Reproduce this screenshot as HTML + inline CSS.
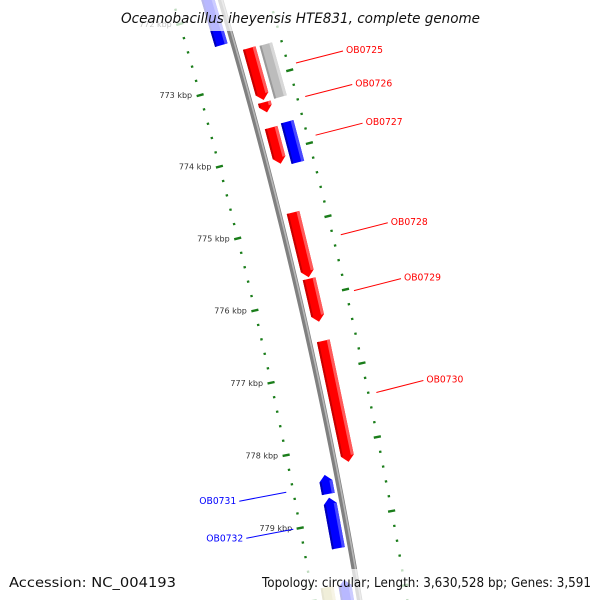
<!DOCTYPE html>
<html><head><meta charset="utf-8"><style>
html,body{margin:0;padding:0;background:#fff;width:600px;height:600px;overflow:hidden;}
svg{display:block;font-family:"DejaVu Sans","Liberation Sans",sans-serif;}
</style></head><body>
<svg id="map" width="600" height="600" viewBox="0 0 600 600" xmlns="http://www.w3.org/2000/svg">
<rect x="0" y="0" width="600" height="600" fill="#fff"/>
<g id="ticks"></g>
<g id="backbone"></g>
<g id="genes"></g>
<g id="labels"></g>
<rect x="0" y="0" width="600" height="31" fill="#fff" fill-opacity="0.72"/>
<rect x="0" y="569" width="600" height="31" fill="#fff" fill-opacity="0.72"/>
<text x="121" y="23" textLength="359" lengthAdjust="spacingAndGlyphs" font-size="14" font-style="italic" fill="#111">Oceanobacillus iheyensis HTE831, complete genome</text>
<text x="9" y="587" textLength="167" lengthAdjust="spacingAndGlyphs" font-size="13" fill="#111">Accession: NC_004193</text>
<text x="262" y="587" textLength="329" lengthAdjust="spacingAndGlyphs" font-size="13" fill="#111">Topology: circular; Length: 3,630,528 bp; Genes: 3,591</text>
</svg>
<script>
// ---- data ----
const geneNames   = ["top-rev","OB0725","feat-0725","OB0726","OB0727","feat-0727","OB0728","OB0729","OB0730","OB0731","OB0732","bottom-rev","bottom-feat"];
const geneStarts  = [771.3, 772.57, 772.58, 773.32, 773.67, 773.65, 774.84, 775.75, 776.60, 778.36, 778.67, 779.79, 779.85];
const geneEnds    = [772.43, 773.29, 773.31, 773.46, 774.17, 774.21, 775.73, 776.34, 778.25, 778.62, 779.36, 780.6, 780.6];
const geneStrands = [-1, 1, 0, 1, 1, 0, 1, 1, 1, -1, -1, -1, 0];
const geneLanes   = ["r1","f1","f2","f1","f1","f2","f1","f1","f1","r1","r1","r1","r2"];
const geneColors  = ["blue","red","gray","red","red","blue","red","red","red","blue","blue","blue","khaki"];
const labelNames  = ["OB0725","OB0726","OB0727","OB0728","OB0729","OB0730","OB0731","OB0732"];
const labelKbp    = [772.93, 773.39, 773.92, 775.28, 776.04, 777.42, 778.49, 779.0];
const labelSides  = [1, 1, 1, 1, 1, 1, -1, -1];
const tickStart = 771.0, tickEnd = 780.6, tickStep = 0.2;
const majorTickLabels = ["772 kbp","773 kbp","774 kbp","775 kbp","776 kbp","777 kbp","778 kbp","779 kbp"];
const majorTickValues = [772,773,774,775,776,777,778,779];

// ---- geometry ----
const CX=-4679, CY=1451;
const laneR={f1:5124,f2:5141,r1:5098,r2:5080};
const LW=13;
function ang(k){return (-15.53+(k-773)*0.838)*Math.PI/180;}
function pt(k,r){const a=ang(k);return [CX+r*Math.cos(a),CY+r*Math.sin(a)];}
const NS="http://www.w3.org/2000/svg";
function mk(tag,attrs,parent){const e=document.createElementNS(NS,tag);for(const k in attrs)e.setAttribute(k,attrs[k]);parent.appendChild(e);return e;}
const palette={red:["#ff0000","#c80000","#ff5a5a"],blue:["#0000ff","#0000b8","#4a4aff"],gray:["#bcbcbc","#9a9a9a","#d8d8d8"],khaki:["#c8c078","#a8a060","#e0d8a0"]};

// ticks
const tg=document.getElementById('ticks');
const nT=Math.round((tickEnd-tickStart)/tickStep);
for(let i=0;i<=nT;i++){
  const k=tickStart+i*tickStep;
  const major=Math.abs(k-Math.round(k))<1e-6;
  [5064,5157].forEach(r=>{
    const h=major?3.6:1.2;
    const a=pt(k,r-h),b=pt(k,r+h);
    const l=mk('line',{x1:a[0],y1:a[1],x2:b[0],y2:b[1],stroke:"#1a7d1a","stroke-width":major?2.4:2.2},tg);
    
    
  });
}
majorTickValues.forEach((k,i)=>{
  const p=pt(k,5064);
  const t=mk('text',{x:p[0]-8,y:p[1]+3,"text-anchor":"end","font-size":8,fill:"#333"},tg);
  t.textContent=majorTickLabels[i];
  
  
});

// backbone
const bb=document.getElementById('backbone');
let pts=[];for(let k=770.5;k<=781;k+=0.1){const p=pt(k,5110);pts.push(p[0].toFixed(2)+","+p[1].toFixed(2));}
const b1=mk('polyline',{points:pts.join(" "),fill:"none",stroke:"#808080","stroke-width":5.5},bb);


pts=[];for(let k=770.5;k<=781;k+=0.1){const p=pt(k,5111.2);pts.push(p[0].toFixed(2)+","+p[1].toFixed(2));}
const b2=mk('polyline',{points:pts.join(" "),fill:"none",stroke:"#b8b8b8","stroke-width":1.6},bb);



// genes
const gg=document.getElementById('genes');
function band(s,e,r0,r1,strand,rc){
  const head=0.085;const p=[];
  if(strand===1){p.push(pt(s,r0),pt(e-head,r0),pt(e,rc),pt(e-head,r1),pt(s,r1));}
  else if(strand===-1){p.push(pt(s+head,r0),pt(e,r0),pt(e,r1),pt(s+head,r1),pt(s,rc));}
  else{p.push(pt(s,r0),pt(e,r0),pt(e,r1),pt(s,r1));}
  return p.map(q=>q[0].toFixed(2)+","+q[1].toFixed(2)).join(" ");
}
geneNames.forEach((n,i)=>{
  const rc=laneR[geneLanes[i]],s=geneStarts[i],e=geneEnds[i],st=geneStrands[i];
  const c=palette[geneColors[i]];
  const g=mk('g',{},gg);
  
  
  mk('polygon',{points:band(s,e,rc-LW/2,rc+LW/2,st,rc),fill:c[0]},g);
  const hs=st===-1?s+0.085:s, he=st===1?e-0.085:e;
  mk('polygon',{points:band(hs,he,rc-LW/2,rc-LW/2+2,0,rc),fill:c[1]},g);
  mk('polygon',{points:band(hs,he,rc+LW/2-3,rc+LW/2,0,rc),fill:c[2]},g);
});

// labels
const lg=document.getElementById('labels');
labelNames.forEach((n,i)=>{
  const side=labelSides[i];
  const p=side===1?pt(labelKbp[i],5165):pt(labelKbp[i],5057);
  const col=side===1?"#ff0000":"#0000ff";
  const ex=p[0]+47*side, ey=p[1]+(side===1?-12:9);
  const l=mk('line',{x1:p[0],y1:p[1],x2:ex,y2:ey,stroke:col,"stroke-width":1},lg);
  
  
  const tx=side===1?ex+3:ex-40;
  const t=mk('text',{x:tx,y:ey+(side===1?2:3),textLength:37,lengthAdjust:"spacingAndGlyphs","font-size":10,fill:col},lg);
  t.textContent=n;
  
  
});
</script>
</body></html>
